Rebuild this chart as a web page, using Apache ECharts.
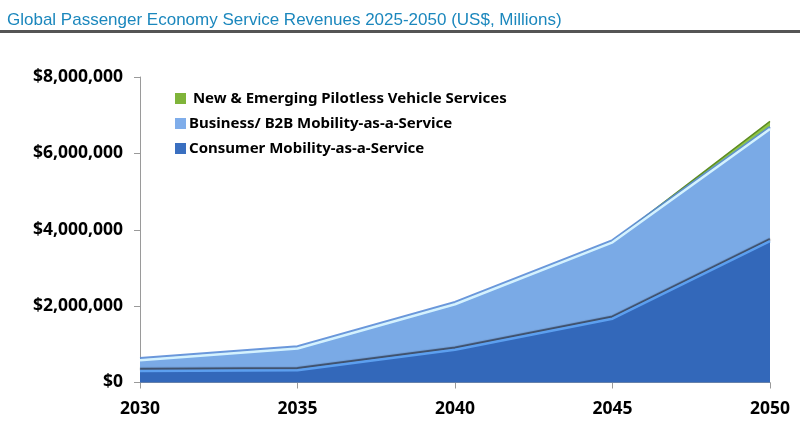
<!DOCTYPE html>
<html>
<head>
<meta charset="utf-8">
<script src="https://cdn.jsdelivr.net/npm/echarts@6/dist/echarts.min.js"></script>
<style>
html,body{margin:0;padding:0;background:#fff;}
#chart{width:800px;height:438px;}
</style>
</head>
<body>
<div id="chart"></div>
<script>
const titleText = 'Global Passenger Economy Service Revenues 2025-2050 (US$, Millions)';
const years = ['2030', '2035', '2040', '2045', '2050'];
const seriesNames = [
  'Consumer Mobility-as-a-Service',
  'Business/ B2B Mobility-as-a-Service',
  ' New & Emerging Pilotless Vehicle Services'
];
const consumerValues = [300000, 320000, 860000, 1670000, 3700000];
const businessValues = [280000, 570000, 1190000, 2000000, 2940000];
const emergingValues = [5000, 8000, 10000, 20000, 200000];
const yMin = 0, yMax = 8000000, yInterval = 2000000;

const chart = echarts.init(document.getElementById('chart'));
const fontFam = '"Noto Sans", "Open Sans", sans-serif';

function money(v) {
  return '$' + String(v).replace(/\B(?=(\d{3})+(?!\d))/g, ',');
}

chart.setOption({
  animation: false,
  backgroundColor: '#ffffff',
  title: {
    text: titleText,
    left: 2, top: 7,
    textStyle: { fontFamily: '"Liberation Sans", Arial, sans-serif', fontSize: 17, fontWeight: 'normal', color: '#1b87bd' }
  },
  graphic: [{
    type: 'rect', shape: { x: 0, y: 30, width: 800, height: 3 },
    style: { fill: '#555555' }
  }],
  legend: {
    orient: 'vertical',
    left: 170, top: 86,
    itemGap: 10,
    itemWidth: 11, itemHeight: 11,
    icon: 'rect',
    data: [seriesNames[2], seriesNames[1], seriesNames[0]],
    textStyle: { fontFamily: fontFam, fontSize: 15, fontWeight: 'bold', color: '#000', padding: [0, 0, 0, -2] }
  },
  grid: { left: 140, right: 30, top: 77, bottom: 55.5, containLabel: false },
  xAxis: {
    type: 'category',
    data: years,
    boundaryGap: false,
    axisLine: { lineStyle: { color: '#9a9a9a', width: 1 } },
    axisTick: { show: true, length: 6, alignWithLabel: true, lineStyle: { color: '#9a9a9a' } },
    axisLabel: { margin: 18, fontFamily: fontFam, fontSize: 17.5, fontWeight: 'bold', color: '#000' },
    splitLine: { show: false }
  },
  yAxis: {
    type: 'value',
    min: yMin, max: yMax, interval: yInterval,
    axisLine: { show: true, lineStyle: { color: '#9a9a9a', width: 1 } },
    axisTick: { show: true, length: 6, lineStyle: { color: '#9a9a9a' } },
    axisLabel: { margin: 17, fontFamily: fontFam, fontSize: 17.5, fontWeight: 'bold', color: '#000', formatter: money },
    splitLine: { show: false }
  },
  series: [
    {
      name: seriesNames[0], type: 'line', stack: 'total', data: consumerValues,
      symbol: 'none', z: 3,
      itemStyle: { color: '#3a6fc0' },
      lineStyle: { color: '#5c9fef', width: 2.5, shadowColor: 'rgba(40,45,60,0.75)', shadowOffsetY: -2, shadowBlur: 1 },
      areaStyle: { color: '#3368ba', opacity: 1 }
    },
    {
      name: seriesNames[1], type: 'line', stack: 'total', data: businessValues,
      symbol: 'none', z: 2,
      itemStyle: { color: '#7fadea' },
      lineStyle: { color: '#d4f2ff', width: 2.5, shadowColor: 'rgba(90,140,215,0.9)', shadowOffsetY: -2, shadowBlur: 0 },
      areaStyle: { color: '#7aaae6', opacity: 1 }
    },
    {
      name: seriesNames[2], type: 'line', stack: 'total', data: emergingValues,
      symbol: 'none', z: 1,
      itemStyle: { color: '#7fb43a' },
      lineStyle: { color: '#5e8c22', width: 1.5 },
      areaStyle: { color: '#8fc545', opacity: 1 }
    }
  ]
});
</script>
</body>
</html>
